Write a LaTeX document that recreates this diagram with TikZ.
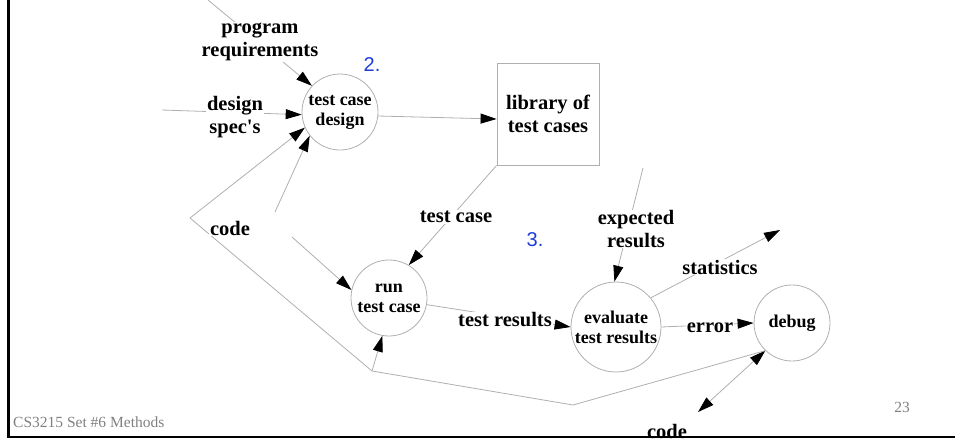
\documentclass[tikz,border=0pt]{standalone}
\usepackage{fontspec}
\setmainfont[Ligatures=TeXOff]{Liberation Serif}
\newfontfamily\numfont{Liberation Sans}
\usetikzlibrary{arrows.meta,calc}
\definecolor{linegray}{RGB}{175,175,175}
\definecolor{numblue}{RGB}{30,60,215}
\definecolor{footgray}{RGB}{128,128,128}
\tikzset{
  flow/.style={draw=linegray,line width=0.8pt},
  arr/.style={flow,-{Triangle[length=16pt,width=10pt,color=black]}},
  darr/.style={flow,{Triangle[length=16pt,width=10pt,color=black]}-{Triangle[length=16pt,width=10pt,color=black]}},
  proc/.style={circle,draw=linegray,line width=0.8pt,inner sep=0pt,align=center,
    font=\fontsize{18}{20}\selectfont\bfseries},
  store/.style={rectangle,draw=linegray,line width=0.8pt,inner sep=0pt,align=center,
    minimum width=102pt,minimum height=102pt,font=\fontsize{20.5}{23}\selectfont\bfseries},
  lbl/.style={align=center,inner sep=1pt,fill=white,font=\fontsize{20.5}{22.5}\selectfont\bfseries},
  num/.style={inner sep=0pt,text=numblue,font=\fontsize{20}{22}\selectfont\numfont},
  foot/.style={inner sep=0pt,text=footgray,font=\fontsize{15.5}{17}\selectfont},
  frame/.style={draw=black,line width=2.5pt}
}
\begin{document}
\begin{tikzpicture}[x=1pt,y=-1pt]
\useasboundingbox (0,0) rectangle (955,439);
\clip (0,0) rectangle (955,439);
% processes
\node[proc,minimum size=76pt] (tcd) at (340,112) {test case\\design};
\node[proc,minimum size=76pt] (rtc) at (389,298) {run\\test case};
\node[proc,minimum size=90pt] (eval) at (616,327) {evaluate\\test results};
\node[proc,minimum size=76pt] (debug) at (792,323) {debug};
\node[store] (lib) at (548,114) {library of\\test cases};
% free ends and bends
\coordinate (progin) at (208,0);
\coordinate (specin) at (162,110);
\coordinate (codeup) at (275,212);
\coordinate (codedn) at (292,237);
\coordinate (expin) at (643,168);
\coordinate (statout) at (780,230);
\coordinate (codeout) at (698,412);
\coordinate (p1) at (573,405);
\coordinate (p2) at (372,371);
\coordinate (p3) at (190,218);
% connectors
\draw[arr] (progin) -- (tcd.137);
\draw[arr] (specin) -- (tcd.184);
\draw[arr] (codeup) -- (tcd.218);
\draw[arr] (tcd.-6) -- ([yshift=-5pt]lib.west);
\draw[arr] (lib.south west) -- (rtc.59);
\draw[arr] (codedn) -- (rtc.168);
\draw[arr] (rtc.-10) -- (eval.west);
\draw[arr] (expin) -- (eval.92);
\draw[arr] (eval.40) -- (statout);
\draw[arr] (eval.east) -- (debug.west);
\draw[darr] (codeout) -- (debug.226);
\draw[flow] (debug.226) -- (p1) -- (p2) -- (p3);
\draw[arr] (p3) -- (tcd.204);
\draw[arr] (p2) -- (rtc.260);
% labels
\node[lbl] (lprog) at (260,42) {program\\requirements};
\node[lbl] (lspec) at (235,117) {design\\spec's};
\node[lbl] (lcode) at (230,228) {code};
\node[lbl] (ltc) at (456,217) {test case};
\node[lbl] (lexp) at (636,229) {expected\\results};
\node[lbl] (lstat) at (720,267) {statistics};
\node[lbl] (ltr) at (505,320) {test results};
\node[lbl] (lerr) at (710,328) {error};
\node[lbl] (lcode2) at (667,431) {code};
\node[num] (n2) at (372,65) {2.};
\node[num] (n3) at (535,240) {3.};
\node[foot,anchor=west] (foot) at (13,422) {CS3215 Set \#6 Methods};
\node[foot] (page) at (902,407) {23};
% frame
\draw[frame] (8.5,-5) -- (8.5,437) -- (960,437);
\end{tikzpicture}
\end{document}
